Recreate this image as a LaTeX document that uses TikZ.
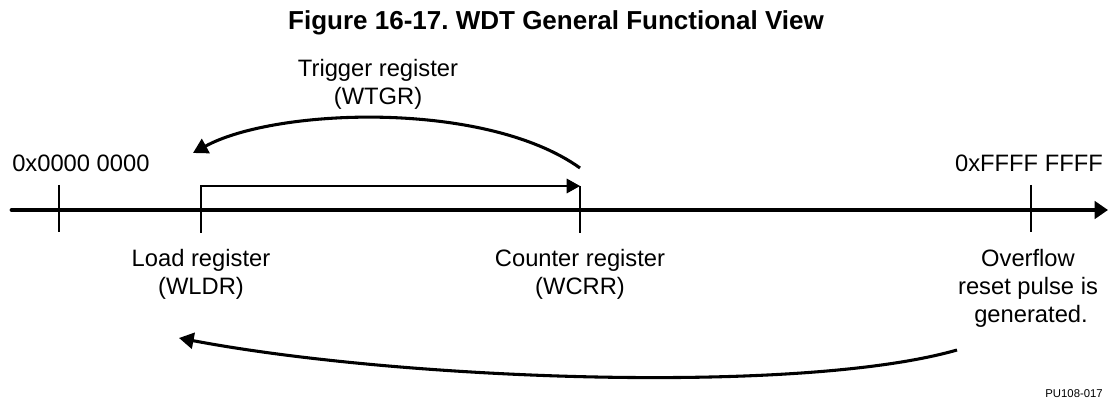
\documentclass[tikz,border=0pt]{standalone}
\usepackage{fontspec}
\setmainfont{Liberation Sans}
\usetikzlibrary{arrows.meta}
\frenchspacing
\begin{document}
\begin{tikzpicture}[x=0.75pt,y=-0.75pt,
  lbl/.style={font=\fontsize{17.8}{21}\selectfont, inner sep=0pt, anchor=base},
  ttl/.style={font=\bfseries\fontsize{19.5}{23}\selectfont, inner sep=0pt, anchor=base},
  tag/.style={font=\fontsize{8.5}{10}\selectfont, inner sep=0pt, anchor=base east},
  axisline/.style={line width=3.6pt, line cap=round, -{Triangle[length=10pt,width=13pt]}},
  tickline/.style={line width=0.9pt},
  bracket/.style={line width=0.9pt, -{Triangle[length=10pt,width=11pt]}},
  bigarrow/.style={line width=2.3pt, -{Triangle[length=11pt,width=12pt]}}]
\useasboundingbox (0,0) rectangle (1109,402);

% coordinates
\coordinate (a0) at (12,210);
\coordinate (a1) at (1108,210);
\coordinate (t0top) at (59,185);  \coordinate (t0bot) at (59,232);
\coordinate (tLtop) at (201,186); \coordinate (tLbot) at (201,233);
\coordinate (tCtop) at (580,186); \coordinate (tCbot) at (580,233);
\coordinate (tFtop) at (1031,185); \coordinate (tFbot) at (1031,232);
\coordinate (trS) at (580,168);  \coordinate (trE) at (193,153);
\coordinate (ovS) at (957,350);  \coordinate (ovE) at (179,338);

% axis and ticks
\draw[axisline] (a0) -- (a1);
\draw[tickline] (t0top) -- (t0bot);
\draw[tickline] (tFtop) -- (tFbot);
\draw[bracket] (tLbot) -- (tLtop) -- (tCtop);
\draw[tickline] (tCtop) -- (tCbot);

% curved arrows
\draw[bigarrow] (trS) .. controls (485,100) and (275,108) .. (trE);
\draw[bigarrow] (ovS) .. controls (800,395) and (400,380) .. (ovE);

% texts
\node[ttl] (title) at (556,30) {Figure 16-17. WDT General Functional View};
\node[lbl] (trig1) at (378,77) {Trigger register};
\node[lbl] (trig2) at (378,105) {(WTGR)};
\node[lbl, anchor=base west] (lo) at (12,172) {0x0000 0000};
\node[lbl, anchor=base east] (hi) at (1103,172) {0xFFFF FFFF};
\node[lbl] (ld1) at (201,267) {Load register};
\node[lbl] (ld2) at (201,295) {(WLDR)};
\node[lbl] (cn1) at (580,267) {Counter register};
\node[lbl] (cn2) at (580,295) {(WCRR)};
\node[lbl] (ov1) at (1028,267) {Overflow};
\node[lbl] (ov2) at (1028,295) {reset pulse is};
\node[lbl] (ov3) at (1031,323) {generated.};
\node[tag] (pu) at (1103,397) {PU108-017};
\end{tikzpicture}
\end{document}
